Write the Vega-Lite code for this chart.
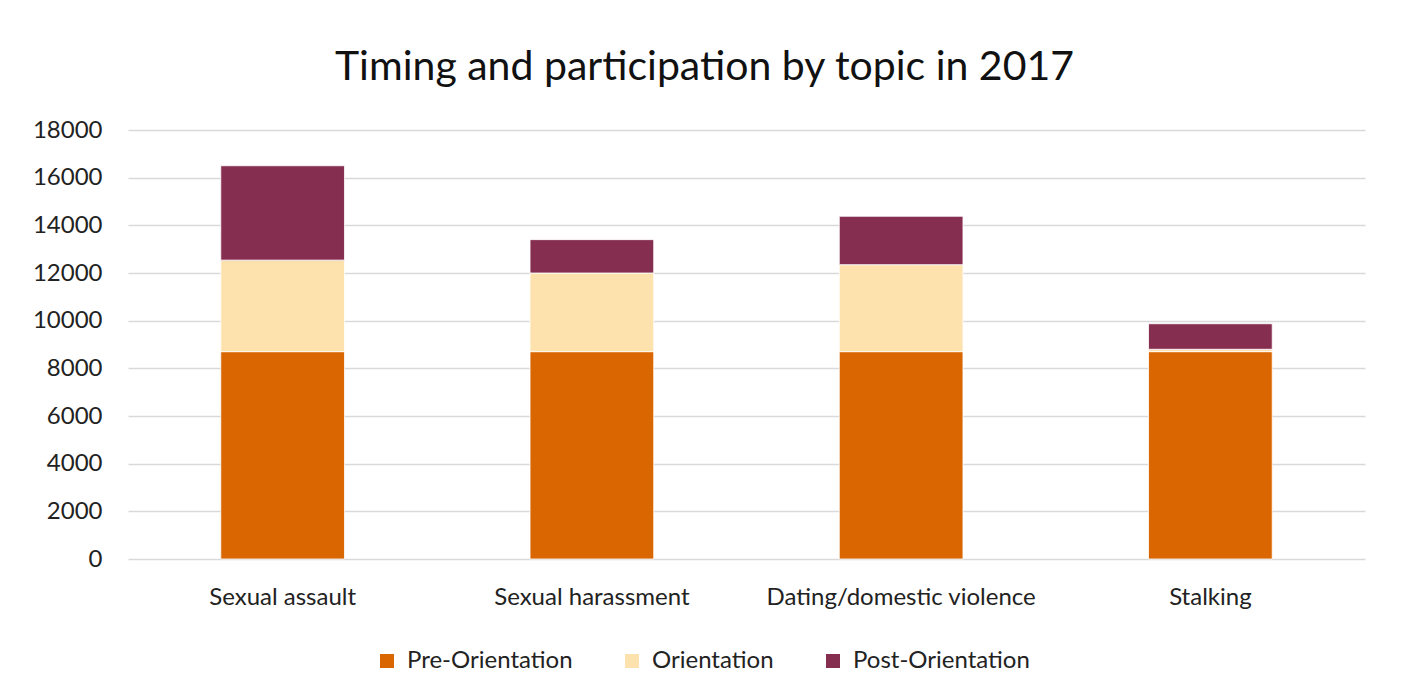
{
  "$schema": "https://vega.github.io/schema/vega-lite/v6.json",
  "width": 1237,
  "height": 429,
  "autosize": {"type": "none"},
  "padding": {"left": 128, "top": 130, "right": 41, "bottom": 141},
  "background": "white",
  "title": {
    "text": "Timing and participation by topic in 2017",
    "font": "Lato",
    "fontSize": 41,
    "fontWeight": "normal",
    "color": "#111111",
    "anchor": "middle",
    "dx": -42,
    "offset": 29
  },
  "data": {
    "values": [
      {"topic": "Sexual assault", "timing": "Pre-Orientation", "ord": 1, "value": 8700},
      {"topic": "Sexual assault", "timing": "Orientation", "ord": 2, "value": 3840},
      {"topic": "Sexual assault", "timing": "Post-Orientation", "ord": 3, "value": 3960},
      {"topic": "Sexual harassment", "timing": "Pre-Orientation", "ord": 1, "value": 8700},
      {"topic": "Sexual harassment", "timing": "Orientation", "ord": 2, "value": 3300},
      {"topic": "Sexual harassment", "timing": "Post-Orientation", "ord": 3, "value": 1400},
      {"topic": "Dating/domestic violence", "timing": "Pre-Orientation", "ord": 1, "value": 8700},
      {"topic": "Dating/domestic violence", "timing": "Orientation", "ord": 2, "value": 3650},
      {"topic": "Dating/domestic violence", "timing": "Post-Orientation", "ord": 3, "value": 2030},
      {"topic": "Stalking", "timing": "Pre-Orientation", "ord": 1, "value": 8700},
      {"topic": "Stalking", "timing": "Orientation", "ord": 2, "value": 100},
      {"topic": "Stalking", "timing": "Post-Orientation", "ord": 3, "value": 1070}
    ]
  },
  "mark": {"type": "bar", "stroke": "#ffffff", "strokeWidth": 0.8},
  "encoding": {
    "x": {
      "field": "topic",
      "type": "nominal",
      "sort": ["Sexual assault", "Sexual harassment", "Dating/domestic violence", "Stalking"],
      "scale": {"paddingInner": 0.6, "paddingOuter": 0.3},
      "axis": {
        "title": null,
        "labelAngle": 0,
        "ticks": false,
        "domain": false,
        "labelFont": "Lato",
        "labelFontSize": 24,
        "labelColor": "#222222",
        "labelBaseline": "top",
        "labelPadding": 26,
        "labelLimit": 0
      }
    },
    "y": {
      "field": "value",
      "type": "quantitative",
      "stack": "zero",
      "scale": {"domain": [0, 18000], "nice": false},
      "axis": {
        "title": null,
        "values": [0, 2000, 4000, 6000, 8000, 10000, 12000, 14000, 16000, 18000],
        "format": "d",
        "ticks": false,
        "domain": false,
        "labelFont": "Lato",
        "labelFontSize": 24,
        "labelColor": "#222222",
        "labelPadding": 26,
        "gridColor": "#D9D9D9",
        "gridWidth": 1.5
      }
    },
    "color": {
      "field": "timing",
      "type": "nominal",
      "scale": {
        "domain": ["Pre-Orientation", "Orientation", "Post-Orientation"],
        "range": ["#D96600", "#FDE2AE", "#862E4F"]
      },
      "legend": {
        "title": null,
        "orient": "none",
        "direction": "horizontal",
        "legendX": 247,
        "legendY": 519,
        "symbolType": "square",
        "symbolSize": 196,
        "symbolStrokeWidth": 0,
        "labelFont": "Lato",
        "labelFontSize": 24,
        "labelColor": "#222222",
        "labelOffset": 8,
        "labelLimit": 0,
        "columnPadding": 47
      }
    },
    "order": {"field": "ord", "type": "quantitative"}
  },
  "config": {
    "view": {"stroke": null}
  }
}
